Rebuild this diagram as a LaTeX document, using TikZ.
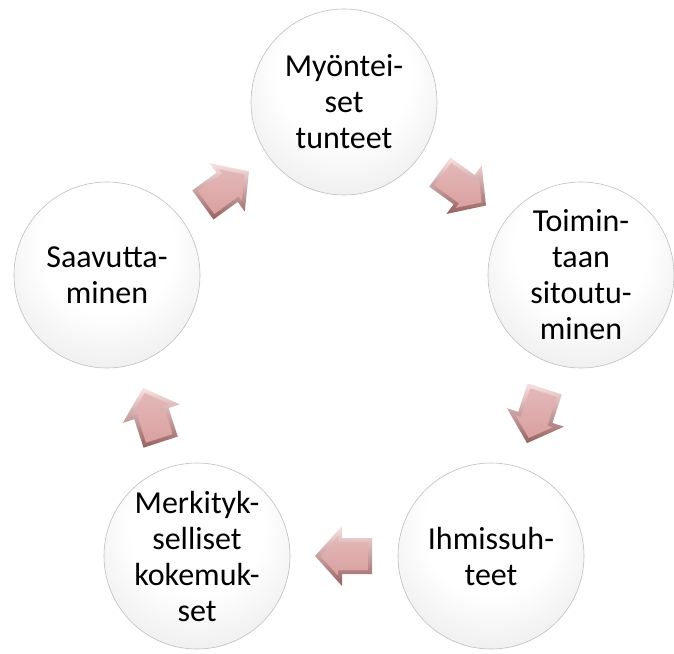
\documentclass[tikz,border=0pt]{standalone}
\usepackage{fontspec}
\setmainfont{Carlito}
\usetikzlibrary{calc}
\definecolor{arface}{RGB}{218,160,160}
\definecolor{ardark}{RGB}{150,96,96}
\definecolor{arlight}{RGB}{250,226,226}
\pgfdeclareradialshading{sphere}{\pgfpoint{0bp}{12bp}}{color(0bp)=(white); color(18bp)=(white); color(30bp)=(black!6); color(40bp)=(black!14); color(46bp)=(black!24); color(50bp)=(black!34)}
\tikzset{
  bubble/.style={circle, minimum size=186pt, inner sep=0pt, shading=sphere,
    draw=black!25, line width=0.6pt, align=center,
    font=\fontsize{32}{36}\selectfont, text=black},
  blockarrow/.pic={
    \shade[top color=arlight, bottom color=ardark]
      (-28,-18) -- (2,-18) -- (2,-30) -- (29,0) -- (2,30) -- (2,18) -- (-28,18) -- cycle;
    \shade[top color=arface!75!white, bottom color=arface]
      (-24,-14) -- (6,-14) -- (6,-19.6) -- (23.6,0) -- (6,19.6) -- (6,14) -- (-24,14) -- cycle;
  }
}
\begin{document}
\begin{tikzpicture}[x=1pt, y=1pt]
  \fill[white] (0,0) rectangle (674,-653);
  \useasboundingbox (0,0) rectangle (674,-653);
  \begin{scope}
  \clip (0,0) rectangle (674,-653);
  \node[bubble] (top)    at (344,-102) {Myöntei-\\set\\tunteet};
  \node[bubble] (right)  at (581,-275) {Toimin-\\taan\\sitoutu-\\minen};
  \node[bubble] (bright) at (491,-556) {Ihmissuh-\\teet};
  \node[bubble] (bleft)  at (197,-556) {Merkityk-\\selliset\\kokemuk-\\set};
  \node[bubble] (left)   at (107,-275) {Saavutta-\\minen};
  \pic[rotate=36]   at ($(left)!0.5!(top)$)    {blockarrow};
  \pic[rotate=-36]  at ($(top)!0.5!(right)$)   {blockarrow};
  \pic[rotate=-108] at ($(right)!0.5!(bright)$) {blockarrow};
  \pic[rotate=180]  at ($(bright)!0.5!(bleft)$) {blockarrow};
  \pic[rotate=108]  at ($(bleft)!0.5!(left)$)   {blockarrow};
  \end{scope}
\end{tikzpicture}
\end{document}
